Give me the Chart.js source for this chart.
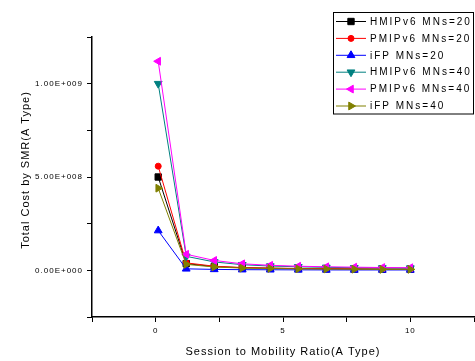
<!DOCTYPE html>
<html>
<head>
<meta charset="utf-8">
<script src="https://cdn.jsdelivr.net/npm/chart.js@4.4.1/dist/chart.umd.min.js"></script>
<style>
  html, body { margin: 0; padding: 0; background: #fff; }
  #wrap { width: 475px; height: 361px; position: relative; }
</style>
</head>
<body>
<div id="wrap"><canvas id="smrChart"></canvas></div>
<script>
// ── Data ────────────────────────────────────────────────────────────────────
const SMR = [0.1, 1.2, 2.3, 3.4, 4.5, 5.6, 6.7, 7.8, 8.9, 10];

const HMIP_20 = [5.00e8, 3.6e7, 2.0e7, 1.4e7, 1.1e7, 9.0e6, 8.0e6, 7.0e6, 6.0e6, 6.0e6];
const PMIP_20 = [5.58e8, 4.0e7, 2.2e7, 1.5e7, 1.2e7, 1.0e7, 9.0e6, 8.0e6, 7.0e6, 6.5e6];
const IFP_20  = [2.13e8, 8.0e6, 5.0e6, 3.5e6, 3.0e6, 2.5e6, 2.2e6, 2.0e6, 2.0e6, 2.0e6];
const HMIP_40 = [1.00e9, 7.5e7, 4.5e7, 3.0e7, 2.3e7, 1.9e7, 1.6e7, 1.4e7, 1.3e7, 1.2e7];
const PMIP_40 = [1.12e9, 8.6e7, 5.3e7, 3.5e7, 2.7e7, 2.2e7, 1.9e7, 1.7e7, 1.5e7, 1.4e7];
const IFP_40  = [4.40e8, 3.2e7, 1.8e7, 1.2e7, 1.0e7, 8.0e6, 7.0e6, 6.0e6, 5.0e6, 5.0e6];

const SERIES_LABELS = ['HMIPv6 MNs=20', 'PMIPv6 MNs=20', 'iFP MNs=20',
                       'HMIPv6 MNs=40', 'PMIPv6 MNs=40', 'iFP MNs=40'];

const X_MIN = -2.5, X_MAX = 12.5;
const Y_MIN = -2.5e8, Y_MAX = 1.25e9;
const X_TICKS = [-2.5, 0, 2.5, 5, 7.5, 10, 12.5];
const Y_TICKS = [-2.5e8, 0, 2.5e8, 5e8, 7.5e8, 1e9, 1.25e9];
const X_LABELED = [0, 5, 10];
const Y_LABELED = [0, 5e8, 1e9];

// ── Styling ─────────────────────────────────────────────────────────────────
const FONT = "'Liberation Sans', Arial, sans-serif";
const STYLES = [
  { color: '#000000', point: 'rect',     rot: 0,   r: 4.5 },
  { color: '#ff0000', point: 'circle',   rot: 0,   r: 3 },
  { color: '#0000ff', point: 'triangle', rot: 0,   r: 4.5 },
  { color: '#008080', point: 'triangle', rot: 180, r: 4.5 },
  { color: '#ff00ff', point: 'triangle', rot: 270, r: 4.5 },
  { color: '#808000', point: 'triangle', rot: 90,  r: 4.5 },
];

function sciLabel(v) {
  if (v === 0) return '0.00E+000';
  const e = Math.floor(Math.log10(Math.abs(v)));
  const m = (v / Math.pow(10, e)).toFixed(2);
  return m + 'E+' + String(e).padStart(3, '0');
}

const seriesValues = [HMIP_20, PMIP_20, IFP_20, HMIP_40, PMIP_40, IFP_40];

const datasets = seriesValues.map((vals, i) => ({
  label: SERIES_LABELS[i],
  data: SMR.map((x, j) => ({ x: x, y: vals[j] })),
  showLine: true,
  borderColor: STYLES[i].color,
  backgroundColor: STYLES[i].color,
  pointBackgroundColor: STYLES[i].color,
  pointBorderColor: STYLES[i].color,
  pointStyle: STYLES[i].point,
  rotation: STYLES[i].rot,
  pointRadius: STYLES[i].r,
  borderWidth: 1,
  pointBorderWidth: 1,
  order: 5 - i,
}));

// ── Plugin: letter spacing, titles and boxed legend ─────────────────────────
const originLook = {
  id: 'originLook',
  beforeDraw(chart) {
    chart.ctx.letterSpacing = '1px';
  },
  afterDraw(chart) {
    const ctx = chart.ctx;
    const area = chart.chartArea;
    ctx.save();
    ctx.fillStyle = '#000';
    ctx.font = '11px ' + FONT;
    ctx.letterSpacing = '1px';
    ctx.textAlign = 'center';
    ctx.textBaseline = 'middle';
    ctx.fillText('Session to Mobility Ratio(A Type)', (area.left + area.right) / 2, 352);

    ctx.translate(26, 170);
    ctx.rotate(-Math.PI / 2);
    ctx.fillText('Total Cost by SMR(A Type)', 0, 0);
    ctx.restore();

    // legend box
    ctx.save();
    const bx = 333.5, by = 12.5, bw = 140, bh = 101.5;
    ctx.fillStyle = '#fff';
    ctx.fillRect(bx, by, bw, bh);
    ctx.strokeStyle = '#000';
    ctx.lineWidth = 1;
    ctx.strokeRect(bx, by, bw, bh);
    ctx.font = '10px ' + FONT;
    ctx.letterSpacing = '2px';
    ctx.textAlign = 'left';
    ctx.textBaseline = 'middle';
    chart.data.datasets.forEach((ds, i) => {
      const y = 21.5 + i * 16.9;
      ctx.strokeStyle = ds.borderColor;
      ctx.fillStyle = ds.borderColor;
      ctx.lineWidth = 1;
      ctx.beginPath();
      ctx.moveTo(336, y);
      ctx.lineTo(366, y);
      ctx.stroke();
      Chart.helpers.drawPoint(ctx, {
        pointStyle: ds.pointStyle,
        rotation: ds.rotation,
        radius: ds.pointRadius,
        borderWidth: 1,
      }, 351, y);
      ctx.fillStyle = '#000';
      ctx.fillText(ds.label, 370, y + 0.5);
    });
    ctx.restore();
  },
};

// ── Chart ───────────────────────────────────────────────────────────────────
const canvas = document.getElementById('smrChart');
new Chart(canvas.getContext('2d'), {
  type: 'scatter',
  data: { datasets: datasets },
  plugins: [originLook],
  options: {
    responsive: true,
    maintainAspectRatio: false,
    animation: false,
    events: [],
    layout: { autoPadding: false, padding: { top: 37, right: 1, left: 0, bottom: 0 } },
    plugins: {
      legend: { display: false },
      tooltip: { enabled: false },
    },
    scales: {
      x: {
        type: 'linear',
        min: X_MIN,
        max: X_MAX,
        afterFit: s => {
          s.height = 44;
          s.paddingLeft = 0;
          s.paddingRight = 0;
        },
        afterBuildTicks: s => { s.ticks = X_TICKS.map(v => ({ value: v })); },
        grid: { drawOnChartArea: false, drawTicks: true, tickLength: 5, color: '#000' },
        border: { display: true, color: '#000', width: 1.5 },
        ticks: {
          color: '#000',
          font: { family: FONT, size: 8 },
          padding: 4,
          maxRotation: 0,
          autoSkip: false,
          callback: v => X_LABELED.includes(v) ? String(v) : '',
        },
      },
      y: {
        type: 'linear',
        min: Y_MIN,
        max: Y_MAX,
        afterFit: s => {
          s.width = 92;
          s.paddingTop = 0;
          s.paddingBottom = 0;
        },
        afterBuildTicks: s => { s.ticks = Y_TICKS.map(v => ({ value: v })); },
        grid: { drawOnChartArea: false, drawTicks: true, tickLength: 5, color: '#000' },
        border: { display: true, color: '#000', width: 1.5 },
        ticks: {
          color: '#000',
          font: { family: FONT, size: 8 },
          padding: 4,
          autoSkip: false,
          callback: v => Y_LABELED.includes(v) ? sciLabel(v) : '',
        },
      },
    },
  },
});
</script>
</body>
</html>
